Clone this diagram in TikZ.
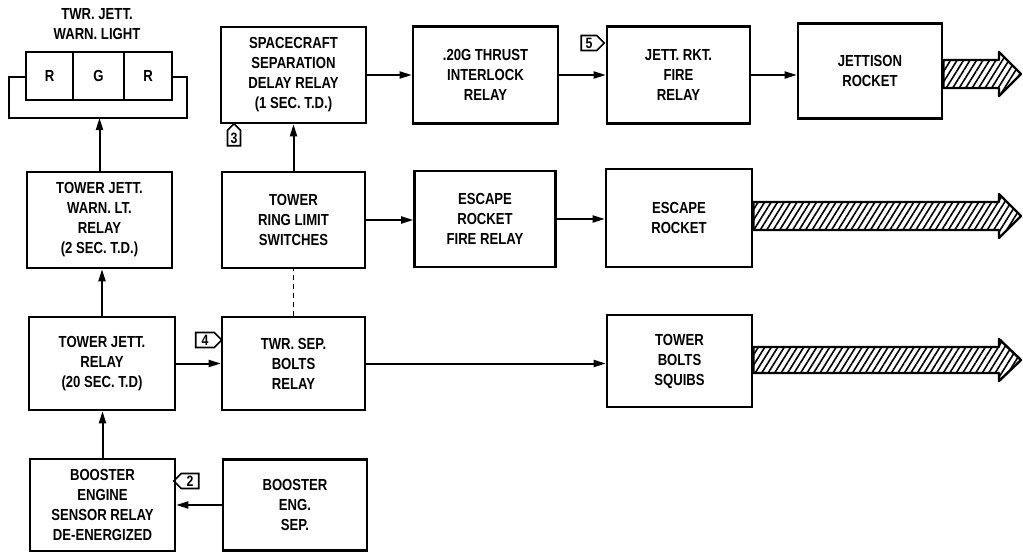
\documentclass[tikz,border=0pt]{standalone}
\usepackage{fontspec}
\setmainfont[FakeStretch=0.82]{Liberation Sans}
\usetikzlibrary{arrows.meta,shapes.symbols,patterns.meta}
\newcommand\lbl{\fontsize{16}{20}\selectfont\bfseries}
\newcommand\flbl{\fontsize{15}{15}\selectfont\bfseries}
\begin{document}
\begin{tikzpicture}[x=1pt,y=-1pt,
  box/.style={draw,line width=2.6pt,align=center,font=\lbl,inner sep=0pt},
  cell/.style={draw,line width=2pt,font=\lbl,inner sep=0pt,minimum height=48pt},
  arr/.style={line width=2pt,-{Triangle[length=12pt,width=7pt]}},
  conn/.style={line width=2pt},
  flag/.style={draw,line width=1.6pt,signal,font=\flbl,inner xsep=2pt,inner ysep=1pt},
  hatch/.style={draw,line width=2.4pt,line join=round,
    pattern={Lines[angle=58,distance=5.5pt,line width=1.6pt]}}]
\useasboundingbox (0,0) rectangle (1023,554);

% top row
\node[box,minimum width=145pt,minimum height=96pt] (ssdr) at (293.5,75) {SPACECRAFT\\SEPARATION\\DELAY RELAY\\(1 SEC. T.D.)};
\node[box,minimum width=145pt,minimum height=97pt] (tir) at (485.5,75) {.20G THRUST\\INTERLOCK\\RELAY};
\node[box,minimum width=143pt,minimum height=97pt] (jrfr) at (678.5,75) {JETT. RKT.\\FIRE\\RELAY};
\node[box,minimum width=144pt,minimum height=95pt] (jr) at (870,71) {JETTISON\\ROCKET};

% warning light
\node[font=\lbl,align=center] (wltitle) at (97,24) {TWR. JETT.\\WARN. LIGHT};
\node[draw,line width=2.8pt,minimum width=146pt,minimum height=48pt,inner sep=0pt] (wl) at (99,76) {};
\node[cell,minimum width=47pt] (wlr1) at (49.5,76) {R};
\node[cell,minimum width=51pt] (wlg) at (98.5,76) {G};
\node[cell,minimum width=48pt] (wlr2) at (148,76) {R};
\coordinate (lpa) at (9,77);
\coordinate (lpb) at (9,118);
\coordinate (loopb) at (99.5,118);
\coordinate (lpc) at (187,118);
\coordinate (lpd) at (187,77);
\draw[conn,line width=2.2pt] (wl.west |- lpa) -- (lpa) -- (lpb) -- (lpc) -- (lpd) -- (wl.east |- lpd);

% middle row
\node[box,minimum width=145pt,minimum height=96pt] (wlr) at (99.5,220) {TOWER JETT.\\WARN. LT.\\RELAY\\(2 SEC. T.D.)};
\node[box,minimum width=143pt,minimum height=96pt] (trls) at (293.5,220) {TOWER\\RING LIMIT\\SWITCHES};
\node[box,minimum width=141pt,minimum height=96pt] (erfr) at (485,219) {ESCAPE\\ROCKET\\FIRE RELAY};
\node[box,minimum width=146pt,minimum height=98pt] (er) at (679,218) {ESCAPE\\ROCKET};

% lower row
\node[box,minimum width=146pt,minimum height=93pt] (tjr) at (102,363.5) {TOWER JETT.\\RELAY\\(20 SEC. T.D)};
\node[box,minimum width=143pt,minimum height=93pt] (tsbr) at (293.5,363.5) {TWR. SEP.\\BOLTS\\RELAY};
\node[box,minimum width=145pt,minimum height=92pt] (tbs) at (679.5,361) {TOWER\\BOLTS\\SQUIBS};

% bottom row
\node[box,minimum width=145pt,minimum height=92pt] (besr) at (102.5,505) {BOOSTER\\ENGINE\\SENSOR RELAY\\DE-ENERGIZED};
\node[box,minimum width=144pt,minimum height=91pt] (bes) at (295,505) {BOOSTER\\ENG.\\SEP.};

% flags
\node[flag,signal to=north,minimum width=13pt,minimum height=21pt] (f3) at (234,138) {3};
\node[flag,signal to=east,minimum width=26pt,minimum height=15pt] (f4) at (205,340) {4};
\node[flag,signal to=east,minimum width=23pt,minimum height=15pt] (f5) at (589,43) {5};
\node[flag,signal to=west,minimum width=25pt,minimum height=15pt] (f2) at (190,481) {2};

% connectors
\draw[arr] (ssdr.east) -- (ssdr.east -| tir.west);
\draw[arr] (tir.east) -- (tir.east -| jrfr.west);
\draw[arr] (jrfr.east) -- (jrfr.east -| jr.west);
\draw[arr] (trls.north) -- (ssdr.south);
\draw[arr] (wlr.north) -- (loopb);
\draw[arr] (trls.east) -- (trls.east -| erfr.west);
\draw[arr] (erfr.east) -- (erfr.east -| er.west);
\draw[line width=1.6pt,dash pattern=on 5pt off 4pt] (tsbr.north) -- (trls.south);
\draw[arr] (tjr.north) -- (tjr.north |- wlr.south);
\draw[arr] (tjr.east) -- (tjr.east -| tsbr.west);
\draw[arr] (tsbr.east) -- (tsbr.east -| tbs.west);
\draw[arr] (besr.north) -- (besr.north |- tjr.south);
\draw[arr] (bes.west) -- (bes.west -| besr.east);

% hatched output arrows
\path[hatch] (jr.east |- 0,60) -- (999,60) -- (999,52) -- (1021,74) -- (999,96) -- (999,88) -- (jr.east |- 0,88) -- cycle;
\path[hatch] (er.east |- 0,202) -- (999,202) -- (999,194) -- (1021,216) -- (999,238) -- (999,230) -- (er.east |- 0,230) -- cycle;
\path[hatch] (tbs.east |- 0,347) -- (999,347) -- (999,339) -- (1021,360) -- (999,381) -- (999,373) -- (tbs.east |- 0,373) -- cycle;
\end{tikzpicture}
\end{document}
